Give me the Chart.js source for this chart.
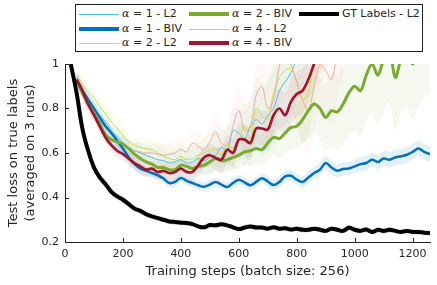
<!DOCTYPE html>
<html><head><meta charset="utf-8">
<script src="https://cdn.jsdelivr.net/npm/chart.js@4.4.1/dist/chart.umd.min.js"></script>
<style>
html,body{margin:0;padding:0;background:#fff;}
#wrap{position:relative;width:437px;height:285px;overflow:hidden;}
#legend{position:absolute;left:75px;top:4px;width:346px;height:46px;border:1px solid #222;background:#fff;font-family:'DejaVu Sans';font-size:11px;color:#262626;}
.item{position:absolute;height:14px;width:110px;}
.sw{position:absolute;left:0;width:40px;}
.lab{position:absolute;left:43px;top:0;white-space:nowrap;line-height:14px;}
.lab i{font-family:'DejaVu Serif';font-size:11px;}
</style></head>
<body><div id="wrap"><canvas id="c" width="437" height="285"></canvas><div id="legend"></div></div>
<script>
// ---- data ----
const steps = [20,40,60,80,100,120,140,160,180,200,220,240,260,280,300,320,340,360,380,400,420,440,460,480,500,520,540,560,580,600,620,640,660,680,700,720,740,760,780,800,820,840,860,880,900,920,940,960,980,1000,1020,1040,1060,1080,1100,1120,1140,1160,1180,1200,1220,1240,1260];

const alpha1L2 = [null,0.94,0.89,0.845,0.80,0.77,0.74,0.70,0.67,0.645,
 0.625,0.61,0.60,0.59,0.58,0.57,0.565,0.555,0.56,0.57,
 0.555,0.56,0.575,0.565,0.58,0.59,0.625,0.61,0.70,0.69,
 0.665,0.72,0.75,0.73,0.77,0.80,0.88,0.92,0.96,1.02,
 1.08,1.12,null,null,null,null,null,null,null,null,null,null,null,null,null,null,null,null,null,null,null,null,null];

const alpha1BIV = [null,0.93,0.88,0.84,0.80,0.76,0.72,0.69,0.655,0.62,
 0.58,0.55,0.53,0.52,0.51,0.50,0.485,0.465,0.47,0.488,
 0.475,0.465,0.455,0.448,0.458,0.47,0.458,0.447,0.465,0.48,
 0.468,0.455,0.47,0.487,0.472,0.456,0.47,0.495,0.498,0.48,
 0.47,0.49,0.51,0.525,0.555,0.535,0.52,0.528,0.53,0.54,
 0.55,0.555,0.57,0.56,0.575,0.57,0.58,0.585,0.592,0.605,
 0.62,0.605,0.595];

const alpha2L2 = [null,0.95,0.91,0.875,0.85,0.81,0.775,0.74,0.71,0.68,
 0.65,0.635,0.625,0.62,0.615,0.60,0.585,0.575,0.57,0.585,
 0.57,0.575,0.59,0.60,0.615,0.62,0.59,0.64,0.62,0.66,
 0.72,0.66,0.80,0.77,0.75,0.87,0.94,0.97,0.98,0.92,
 0.84,0.87,1.02,1.1,1.15,null,null,null,null,null,null,null,null,null,null,null,null,null,null,null,null,null,null];

const alpha2BIV = [null,0.93,0.87,0.82,0.78,0.73,0.68,0.66,0.65,0.64,
 0.62,0.595,0.575,0.56,0.55,0.535,0.535,0.525,0.525,0.545,
 0.54,0.53,0.54,0.545,0.56,0.575,0.565,0.57,0.58,0.59,
 0.605,0.61,0.62,0.615,0.645,0.67,0.665,0.69,0.715,0.72,
 0.75,0.79,0.82,0.80,0.76,0.79,0.785,0.82,0.87,0.90,
 0.88,0.95,1.0,0.95,1.02,1.06,0.94,1.02,1.06,1.0,
 1.06,1.1,1.12];

const alpha4L2 = [null,0.93,0.88,0.82,0.77,0.73,0.69,0.665,0.645,0.635,
 0.62,0.61,0.605,0.60,0.60,0.595,0.59,0.595,0.60,0.615,
 0.605,0.645,0.63,0.615,0.65,0.695,0.645,0.635,0.72,0.79,
 0.70,0.72,0.86,0.90,0.80,0.84,0.99,1.05,1.0,0.92,
 0.84,0.79,0.9,1.0,0.97,0.93,1.05,1.15,null,null,null,null,null,null,null,null,null,null,null,null,null,null,null];

const alpha4BIV = [null,0.93,0.88,0.82,0.77,0.72,0.67,0.635,0.61,0.595,
 0.575,0.555,0.54,0.525,0.53,0.515,0.52,0.51,0.515,0.53,
 0.515,0.515,0.545,0.58,0.59,0.578,0.57,0.615,0.60,0.66,
 0.66,0.645,0.71,0.71,0.705,0.77,0.80,0.77,0.83,0.865,
 0.88,0.93,1.0,1.06,1.12,null,null,null,null,null,null,null,null,null,null,null,null,null,null,null,null,null,null];

const gtL2 = [1.0,0.87,0.71,0.61,0.535,0.49,0.46,0.425,0.405,0.39,
 0.37,0.35,0.34,0.325,0.315,0.307,0.30,0.292,0.29,0.287,
 0.285,0.28,0.27,0.266,0.276,0.275,0.28,0.275,0.266,0.258,
 0.265,0.27,0.265,0.265,0.26,0.266,0.26,0.262,0.256,0.26,
 0.255,0.255,0.26,0.255,0.25,0.26,0.255,0.25,0.264,0.255,
 0.25,0.256,0.245,0.255,0.25,0.255,0.25,0.245,0.25,0.245,
 0.245,0.242,0.24];

// spread (std over 3 runs)
const gtSpread = [0.01,0.015,0.02,0.02,0.02,0.018,0.016,0.015,0.014,0.014,
 0.013,0.013,0.012,0.012,0.012,0.012,0.012,0.012,0.012,0.012,
 0.012,0.012,0.012,0.012,0.012,0.012,0.012,0.012,0.012,0.012,
 0.012,0.012,0.012,0.012,0.012,0.012,0.012,0.012,0.012,0.012,
 0.012,0.012,0.012,0.012,0.012,0.012,0.012,0.012,0.012,0.012,
 0.012,0.012,0.012,0.012,0.012,0.012,0.012,0.012,0.012,0.012,
 0.012,0.012,0.012];
const biv1Spread = [0.02,0.03,0.03,0.03,0.03,0.03,0.03,0.03,0.03,0.03,
 0.03,0.025,0.025,0.022,0.022,0.02,0.02,0.02,0.02,0.02,
 0.02,0.02,0.02,0.02,0.02,0.02,0.02,0.02,0.022,0.022,
 0.022,0.022,0.022,0.022,0.025,0.025,0.025,0.025,0.025,0.025,
 0.028,0.028,0.028,0.03,0.03,0.03,0.03,0.03,0.03,0.03,
 0.032,0.032,0.032,0.032,0.035,0.035,0.035,0.035,0.035,0.035,
 0.035,0.035,0.035];
const biv2Spread = [0,0.03,0.03,0.03,0.03,0.03,0.03,0.03,0.03,0.03,
 0.03,0.03,0.035,0.035,0.035,0.035,0.035,0.04,0.04,0.04,
 0.04,0.04,0.045,0.045,0.05,0.05,0.05,0.055,0.055,0.06,
 0.06,0.065,0.07,0.07,0.08,0.08,0.09,0.09,0.1,0.1,
 0.11,0.12,0.13,0.14,0.15,0.16,0.17,0.18,0.19,0.2,
 0.2,0.21,0.22,0.22,0.23,0.23,0.24,0.24,0.25,0.25,
 0.25,0.25,0.25];
const biv4Spread = [0,0.03,0.03,0.03,0.03,0.03,0.03,0.03,0.03,0.03,
 0.03,0.03,0.035,0.035,0.035,0.035,0.035,0.035,0.04,0.04,
 0.04,0.04,0.045,0.05,0.05,0.055,0.06,0.06,0.065,0.07,
 0.07,0.075,0.08,0.08,0.085,0.09,0.09,0.1,0.1,0.1,
 0.1,0.1,0.1,0.1,0.1,0.1,0.1,0.1,0.1,0.1,
 0.1,0.1,0.1,0.1,0.1,0.1,0.1,0.1,0.1,0.1,
 0.1,0.1,0.1];
const l2Spread = [0,0.035,0.035,0.035,0.035,0.035,0.035,0.04,0.04,0.04,
 0.04,0.04,0.045,0.045,0.045,0.05,0.05,0.05,0.05,0.055,
 0.055,0.06,0.06,0.065,0.07,0.075,0.08,0.09,0.1,0.11,
 0.12,0.13,0.14,0.15,0.16,0.17,0.18,0.19,0.2,0.2,
 0.2,0.2,0.2,0.2,0.2,0.2,0.2,0.2,0.2,0.2,
 0.2,0.2,0.2,0.2,0.2,0.2,0.2,0.2,0.2,0.2,
 0.2,0.2,0.2];

const seriesNames = ['α = 1 - L2','α = 1 - BIV','α = 2 - L2','α = 2 - BIV','α = 4 - L2','α = 4 - BIV','GT Labels - L2'];
const xTickValues = [0,200,400,600,800,1000,1200];
const xTickLabels = ['0','200','400','600','800','1000','1200'];
const yTickValues = [0.2,0.4,0.6,0.8,1];
const yTickLabels = ['0.2','0.4','0.6','0.8','1'];
const xTitle = 'Training steps (batch size: 256)';
const yTitle = ['Test loss on true labels','(averaged on 3 runs)'];

// ---- styling ----
const series = [
  {name:seriesNames[0], vals:alpha1L2, sd:l2Spread, color:'#4DBEEE', band:'rgba(77,190,238,0.08)', w:1},
  {name:seriesNames[1], vals:alpha1BIV, sd:biv1Spread, color:'#0072BD', band:'rgba(0,114,189,0.11)', w:2.5},
  {name:seriesNames[2], vals:alpha2L2, sd:l2Spread, color:'#BFE43A', band:'rgba(191,228,58,0.08)', w:1},
  {name:seriesNames[3], vals:alpha2BIV, sd:biv2Spread, color:'#77AC30', band:'rgba(119,172,48,0.08)', w:3},
  {name:seriesNames[4], vals:alpha4L2, sd:l2Spread, color:'#F4A99B', band:'rgba(244,169,155,0.08)', w:1},
  {name:seriesNames[5], vals:alpha4BIV, sd:biv4Spread, color:'#A2142F', band:'rgba(162,20,47,0.07)', w:2.7},
  {name:seriesNames[6], vals:gtL2, sd:gtSpread, color:'#000000', band:'rgba(0,0,0,0.12)', w:4}
];

const lineSets = [];
const bandSets = [];
// draw order: index 0 on top -> GT on top, then BIV, then L2
const drawOrder = [6,5,3,1,4,2,0];
drawOrder.forEach(k => {
  const s = series[k];
  lineSets.push({
    label:s.name,
    data:steps.map((x,i)=>({x:x,y:s.vals[i]})),
    borderColor:s.color, borderWidth:s.w, pointRadius:0, fill:false, tension:0.35, clip:0
  });
});
drawOrder.forEach(k => {
  const s = series[k];
  bandSets.push({
    data:steps.map((x,i)=>({x:x,y:s.vals[i]==null?null:s.vals[i]+s.sd[i]})),
    borderWidth:0, pointRadius:0, backgroundColor:s.band, fill:'+1', tension:0.35, clip:0
  });
  bandSets.push({
    data:steps.map((x,i)=>({x:x,y:s.vals[i]==null?null:s.vals[i]-s.sd[i]})),
    borderWidth:0, pointRadius:0, backgroundColor:s.band, fill:false, tension:0.35, clip:0
  });
});

const inwardTicks = {
  id:'inwardTicks',
  afterDraw(chart){
    const {ctx, chartArea:a, scales:{x,y}} = chart;
    ctx.save();
    ctx.strokeStyle = '#222'; ctx.lineWidth = 1;
    ctx.beginPath();
    xTickValues.forEach(v=>{ const px = Math.round(x.getPixelForValue(v))+0.5; ctx.moveTo(px,a.bottom); ctx.lineTo(px,a.bottom-4); });
    yTickValues.forEach(v=>{ const py = Math.round(y.getPixelForValue(v))+0.5; ctx.moveTo(a.left,py); ctx.lineTo(a.left+4,py); });
    ctx.stroke();
    ctx.restore();
  }
};

const tickFont = {family:'DejaVu Sans', size:11};
new Chart(document.getElementById('c'), {
  type:'line',
  data:{datasets: lineSets.concat(bandSets)},
  options:{
    responsive:false, animation:false, events:[],
    layout:{padding:{left:0, top:64, right:7, bottom:0}},
    plugins:{legend:{display:false}, tooltip:{enabled:false}},
    scales:{
      x:{type:'linear', min:0, max:1260,
        grid:{display:false, drawTicks:false},
        border:{display:true, color:'#222', width:1},
        afterBuildTicks:s=>{ s.ticks = xTickValues.map(v=>({value:v})); },
        afterFit:s=>{ s.height = 43; },
        ticks:{font:tickFont, color:'#262626', padding:6, maxRotation:0, autoSkip:false,
          callback:(v,i)=>xTickLabels[i]},
        title:{display:true, text:xTitle, color:'#262626', font:{family:'DejaVu Sans', size:13}, padding:{top:0,bottom:6}}
      },
      y:{type:'linear', min:0.2, max:1,
        grid:{display:false, drawTicks:false},
        border:{display:true, color:'#222', width:1},
        afterBuildTicks:s=>{ s.ticks = yTickValues.map(v=>({value:v})); },
        afterFit:s=>{ s.width = 65; },
        ticks:{font:tickFont, color:'#262626', padding:6, autoSkip:false,
          callback:(v,i)=>yTickLabels[i]},
        title:{display:true, text:yTitle, color:'#262626', font:{family:'DejaVu Sans', size:13, lineHeight:1.3}, padding:{top:5.5,bottom:0}}
      }
    }
  },
  plugins:[inwardTicks]
});

// ---- legend (3 rows, column-major) ----
const leg = document.getElementById('legend');
const colX = [3,113,223];
const rowY = [2,17,31];
series.forEach((s,i)=>{
  const col = Math.floor(i/3), row = i%3;
  const it = document.createElement('div');
  it.className = 'item';
  it.style.left = colX[col]+'px';
  it.style.top = rowY[row]+'px';
  const sw = document.createElement('div');
  sw.className = 'sw';
  const lw = s.w>=4 ? 4.5 : (s.w>1 ? 3.5 : 1);
  sw.style.height = lw+'px';
  sw.style.top = (7 - lw/2)+'px';
  sw.style.background = s.color;
  const lab = document.createElement('div');
  lab.className = 'lab';
  const txt = s.name;
  if (txt.charAt(0)==='α') {
    const it2 = document.createElement('i'); it2.textContent = 'α';
    lab.appendChild(it2);
    lab.appendChild(document.createTextNode(txt.slice(1)));
  } else {
    lab.textContent = txt;
  }
  it.appendChild(sw); it.appendChild(lab);
  leg.appendChild(it);
});
</script>
</body></html>
